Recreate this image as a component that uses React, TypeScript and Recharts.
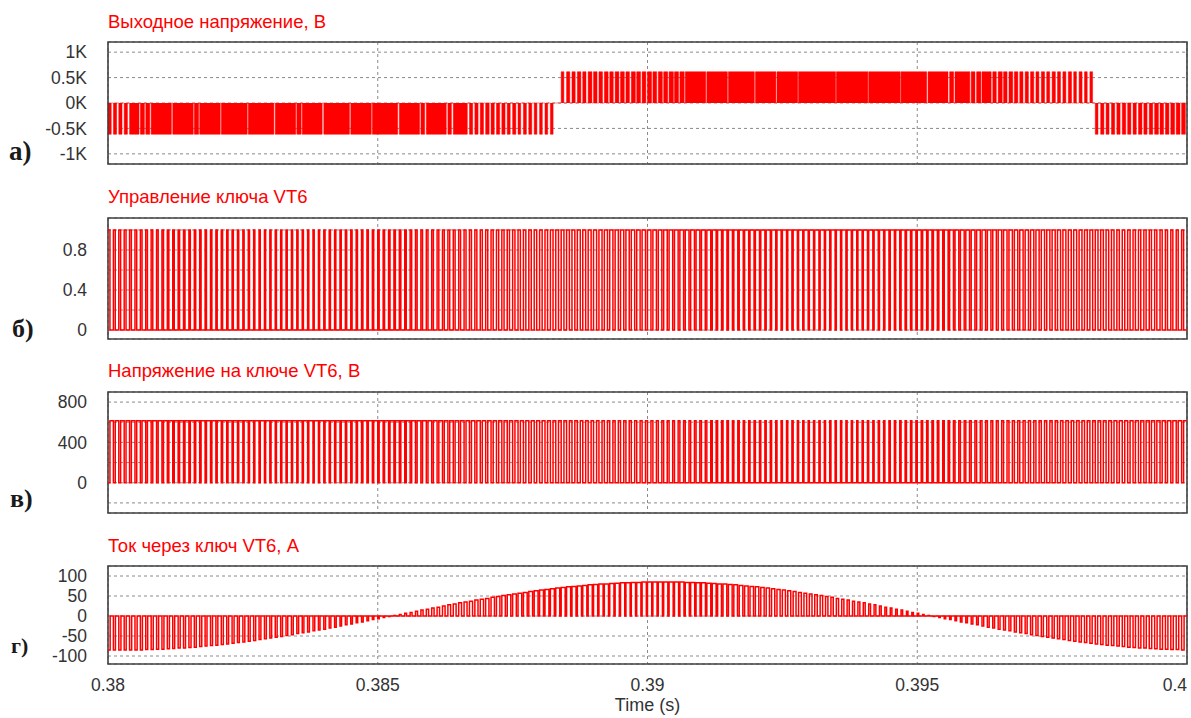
import React from 'react';
import { ComposedChart, Line, Area, XAxis, YAxis, CartesianGrid, ReferenceArea } from 'recharts';

// ---------- time base ----------
const TIME_START = 0.38;
const TIME_END = 0.4;
const PWM_PERIOD = 0.0001; // one switching period (10 kHz)
const timeTicks = [0.38, 0.385, 0.39, 0.395, 0.4];
const timeTickLabels = ['0.38', '0.385', '0.39', '0.395', '0.4'];

// ---------- panel titles ----------
const titles = ['Выходное напряжение, В', 'Управление ключа VT6', 'Напряжение на ключе VT6, В', 'Ток через ключ VT6, А'];
const panelLetters = ['а)', 'б)', 'в)', 'г)'];

// ---------- axes ----------
const outDomain = [-1200, 1200];
const outTicks = [-1000, -500, 0, 500, 1000];
const outTickLabels = ['-1K', '-0.5K', '0K', '0.5K', '1K'];

const ctrlDomain = [-0.09, 1.12];
const ctrlTicks = [0, 0.2, 0.4, 0.6, 0.8, 1.0];
const ctrlTickLabels = ['0', '', '0.4', '', '0.8', ''];

const vswDomain = [-300, 900];
const vswTicks = [-200, 0, 200, 400, 600, 800];
const vswTickLabels = ['', '0', '', '400', '', '800'];

const curDomain = [-120, 125];
const curTicks = [-100, -50, 0, 50, 100];
const curTickLabels = ['-100', '-50', '0', '50', '100'];

// ---------- levels ----------
const OUT_LEVEL = 615; // output voltage pulse level, V
const CTRL_LEVEL = 1; // control signal high
const VSW_LEVEL = 615; // switch blocking voltage, V

// ---------- per-period data (200 switching periods) ----------
// output voltage: signed fraction of the period spent at +/-OUT_LEVEL
const outDuty = [
  -0.6, -0.6, -0.6, -0.6, -1, -0.75, -0.75, -0.75, -1, -1,
  -1, -0.75, -1, -1, -1, -0.8, -0.8, -1, -1, -1,
  -0.8, -1, -1, -1, -1, -0.8, -1, -1, -1, -1,
  -0.75, -1, -1, -1, -0.8, -0.8, -1, -1, -1, -0.7,
  -1, -1, -1, -1, -0.75, -1, -1, -1, -0.8, -1,
  -1, -1, -1, -0.7, -1, -1, -1, -0.75, -0.7, -1,
  -1, -1, -0.7, -0.65, -1, -1, -0.6, -0.6, -0.6, -0.6,
  -0.65, -0.6, -0.6, -0.6, -0.55, -0.6, -0.5, -0.55, -0.55, -0.5,
  -0.5, -0.5, -0.5, 0, 0.5, 0.6, 0.6, 0.65, 0.6, 0.7,
  0.65, 0.65, 0.7, 0.65, 0.7, 0.7, 0.65, 0.75, 0.7, 0.7,
  0.75, 0.7, 0.75, 0.75, 0.8, 0.75, 0.8, 1, 1, 1,
  0.8, 1, 1, 1, 0.8, 1, 1, 1, 1, 0.8,
  1, 1, 1, 0.8, 1, 1, 1, 0.85, 1, 1,
  1, 1, 1, 1, 0.85, 1, 1, 1, 1, 1,
  0.85, 1, 1, 1, 1, 1, 0.85, 1, 1, 1,
  1, 0.75, 1, 1, 1, 0.7, 0.75, 1, 1, 0.75,
  0.7, 0.8, 1, 0.7, 0.65, 0.75, 0.65, 0.7, 0.65, 0.6,
  0.6, 0.6, 0.55, 0.6, 0.55, 0.6, 0.55, 0.55, 0.6, 0.5,
  0.55, 0.5, 0.5, -0.5, -0.6, -0.55, -0.6, -0.6, -0.65, -0.6,
  -0.6, -0.65, -0.6, -0.65, -0.7, -0.65, -0.65, -0.7, -0.7, -0.7,
];

// VT6 control: fraction of each period the switch is on
const vt6Duty = [
  0.36, 0.35, 0.34, 0.34, 0.33, 0.32, 0.31, 0.31, 0.30, 0.30,
  0.29, 0.28, 0.28, 0.27, 0.27, 0.26, 0.26, 0.25, 0.25, 0.25,
  0.24, 0.24, 0.24, 0.23, 0.23, 0.23, 0.23, 0.22, 0.22, 0.22,
  0.22, 0.22, 0.22, 0.22, 0.22, 0.22, 0.22, 0.22, 0.22, 0.22,
  0.23, 0.23, 0.23, 0.23, 0.24, 0.24, 0.24, 0.25, 0.25, 0.25,
  0.26, 0.26, 0.27, 0.27, 0.28, 0.28, 0.29, 0.30, 0.30, 0.31,
  0.31, 0.32, 0.33, 0.34, 0.34, 0.35, 0.36, 0.37, 0.37, 0.38,
  0.39, 0.40, 0.41, 0.41, 0.42, 0.43, 0.44, 0.45, 0.46, 0.46,
  0.47, 0.48, 0.49, 0.50, 0.51, 0.52, 0.53, 0.54, 0.54, 0.55,
  0.56, 0.57, 0.58, 0.59, 0.59, 0.60, 0.61, 0.62, 0.63, 0.63,
  0.64, 0.65, 0.66, 0.66, 0.67, 0.68, 0.69, 0.69, 0.70, 0.70,
  0.71, 0.72, 0.72, 0.73, 0.73, 0.74, 0.74, 0.75, 0.75, 0.75,
  0.76, 0.76, 0.76, 0.77, 0.77, 0.77, 0.77, 0.78, 0.78, 0.78,
  0.78, 0.78, 0.78, 0.78, 0.78, 0.78, 0.78, 0.78, 0.78, 0.78,
  0.77, 0.77, 0.77, 0.77, 0.76, 0.76, 0.76, 0.75, 0.75, 0.75,
  0.74, 0.74, 0.73, 0.73, 0.72, 0.72, 0.71, 0.70, 0.70, 0.69,
  0.69, 0.68, 0.67, 0.66, 0.66, 0.65, 0.64, 0.63, 0.63, 0.62,
  0.61, 0.60, 0.59, 0.59, 0.58, 0.57, 0.56, 0.55, 0.54, 0.54,
  0.53, 0.52, 0.51, 0.50, 0.49, 0.48, 0.47, 0.46, 0.46, 0.45,
  0.44, 0.43, 0.42, 0.41, 0.41, 0.40, 0.39, 0.38, 0.37, 0.37,
];

// VT6 current: envelope (A) during each conduction interval
const curEnvelope = [
  -85, -85, -85, -85, -85, -85, -85, -84, -84, -83,
  -83, -82, -81, -80, -80, -79, -78, -76, -75, -74,
  -73, -71, -70, -68, -66, -65, -63, -61, -59, -57,
  -55, -53, -51, -49, -47, -44, -42, -40, -37, -35,
  -33, -30, -28, -25, -22, -20, -17, -15, -12, -9,
  -7, -4, -1, 1, 4, 7, 9, 12, 15, 17,
  20, 22, 25, 28, 30, 33, 35, 37, 40, 42,
  44, 47, 49, 51, 53, 55, 57, 59, 61, 63,
  65, 66, 68, 70, 71, 73, 74, 75, 76, 78,
  79, 80, 80, 81, 82, 83, 83, 84, 84, 85,
  85, 85, 85, 85, 85, 85, 85, 84, 84, 83,
  83, 82, 81, 80, 80, 79, 78, 76, 75, 74,
  73, 71, 70, 68, 66, 65, 63, 61, 59, 57,
  55, 53, 51, 49, 47, 44, 42, 40, 37, 35,
  33, 30, 28, 25, 22, 20, 17, 15, 12, 9,
  7, 4, 1, -1, -4, -7, -9, -12, -15, -17,
  -20, -22, -25, -28, -30, -33, -35, -37, -40, -42,
  -44, -47, -49, -51, -53, -55, -57, -59, -61, -63,
  -65, -66, -68, -70, -71, -73, -74, -75, -76, -78,
  -79, -80, -80, -81, -82, -83, -83, -84, -84, -85,
];

// VT6 current: fraction of each period the current flows
const curOnFrac = [
  0.40, 0.38, 0.40, 0.37, 0.39, 0.40, 0.38, 0.36, 0.39, 0.38,
  0.37, 0.39, 0.36, 0.38, 0.37, 0.39, 0.36, 0.38, 0.35, 0.37,
  0.36, 0.38, 0.35, 0.37, 0.34, 0.36, 0.35, 0.37, 0.34, 0.35,
  0.33, 0.35, 0.34, 0.32, 0.34, 0.33, 0.31, 0.33, 0.32, 0.30,
  0.32, 0.31, 0.30, 0.29, 0.31, 0.30, 0.28, 0.30, 0.29, 0.28,
  0.27, 0.28, 0.26, 0.30, 0.32, 0.34, 0.36, 0.38, 0.40, 0.42,
  0.44, 0.46, 0.48, 0.50, 0.52, 0.53, 0.55, 0.57, 0.58, 0.60,
  0.61, 0.63, 0.64, 0.65, 0.66, 0.68, 0.69, 0.70, 0.70, 0.71,
  0.72, 0.73, 0.73, 0.74, 0.74, 0.75, 0.75, 0.76, 0.76, 0.76,
  0.77, 0.77, 0.77, 0.78, 0.78, 0.78, 0.78, 0.78, 0.78, 0.78,
  0.78, 0.77, 0.77, 0.77, 0.76, 0.76, 0.76, 0.75, 0.75, 0.74,
  0.74, 0.73, 0.72, 0.71, 0.70, 0.69, 0.68, 0.67, 0.66, 0.65,
  0.63, 0.62, 0.61, 0.59, 0.58, 0.56, 0.55, 0.53, 0.52, 0.50,
  0.49, 0.47, 0.46, 0.44, 0.43, 0.41, 0.40, 0.39, 0.37, 0.36,
  0.35, 0.34, 0.33, 0.32, 0.31, 0.30, 0.30, 0.29, 0.28, 0.28,
  0.27, 0.27, 0.26, 0.25, 0.26, 0.27, 0.28, 0.28, 0.29, 0.30,
  0.31, 0.31, 0.32, 0.33, 0.33, 0.34, 0.35, 0.35, 0.36, 0.36,
  0.37, 0.37, 0.38, 0.38, 0.39, 0.39, 0.40, 0.40, 0.41, 0.41,
  0.42, 0.42, 0.42, 0.43, 0.43, 0.43, 0.44, 0.44, 0.44, 0.45,
  0.45, 0.45, 0.45, 0.46, 0.46, 0.46, 0.46, 0.46, 0.46, 0.46,
];

// ---------- build step data ----------
type Pt = { t: number; v: number };
// each period: `first` level for frac of the period, then `second` level
function buildTrain(fracs: number[], first: (i: number) => number, second: (i: number) => number): Pt[] {
  const pts: Pt[] = [];
  let last = 0;
  for (let i = 0; i < fracs.length; i++) {
    const t0 = TIME_START + i * PWM_PERIOD;
    const f = fracs[i];
    if (f <= 0) {
      pts.push({ t: t0, v: second(i) });
      last = second(i);
    } else {
      pts.push({ t: t0, v: first(i) });
      last = first(i);
      if (f < 1) {
        pts.push({ t: t0 + f * PWM_PERIOD, v: second(i) });
        last = second(i);
      }
    }
  }
  pts.push({ t: TIME_END, v: last });
  return pts;
}

const outData = buildTrain(outDuty.map((d) => Math.abs(d)), (i) => Math.sign(outDuty[i]) * OUT_LEVEL, () => 0);
const ctrlData = buildTrain(vt6Duty, () => CTRL_LEVEL, () => 0);
const vswData = buildTrain(vt6Duty, () => 0, () => VSW_LEVEL);
const curData = buildTrain(curOnFrac, (i) => curEnvelope[i], () => 0);

// ---------- style ----------
const FONT = "'Liberation Sans', Arial, sans-serif";
const SERIF = "'Liberation Serif', 'Times New Roman', serif";
const RED = '#ff0000';
const TEXT = '#333333';
const W = 1191;

const TimeTick = (props: any) => {
  const { x, y, payload } = props;
  const idx = timeTicks.indexOf(payload.value);
  const isLast = idx === timeTicks.length - 1;
  return (
    <text x={x} y={y + 27} textAnchor={isLast ? 'end' : 'middle'} fill={TEXT} fontSize={17.5} fontFamily={FONT}>
      {timeTickLabels[idx]}
    </text>
  );
};

const EmptyTick = () => <g />;

type PanelProps = {
  top: number;
  plotHeight: number;
  data: Pt[];
  domain: number[];
  ticks: number[];
  tickLabels: string[];
  filled?: boolean;
  showTime?: boolean;
};

function Panel({ top, plotHeight, data, domain, ticks, tickLabels, filled, showTime }: PanelProps) {
  const xAxisH = showTime ? 40 : 1;
  const h = 4 + plotHeight + (showTime ? xAxisH : 4);
  return (
    <div style={{ position: 'absolute', left: 0, top: top - 4, width: W, height: h }}>
      <ComposedChart width={W} height={h} data={data} margin={{ top: 4, right: 4, bottom: showTime ? 0 : 3, left: 0 }}>
        <XAxis
          dataKey="t"
          type="number"
          domain={[TIME_START, TIME_END]}
          allowDataOverflow
          ticks={timeTicks}
          interval={0}
          height={xAxisH}
          axisLine={false}
          tickLine={false}
          tickSize={0}
          tickMargin={0}
          tick={showTime ? <TimeTick /> : <EmptyTick />}
        />
        <YAxis
          type="number"
          domain={domain as [number, number]}
          allowDataOverflow
          ticks={ticks}
          interval={0}
          width={108}
          axisLine={false}
          tickLine={false}
          tickSize={0}
          tickMargin={21}
          tick={{ fill: TEXT, fontSize: 17.5, fontFamily: FONT }}
          tickFormatter={(v: number) => tickLabels[ticks.indexOf(v)] ?? ''}
        />
        {filled ? (
          <Area
            type="stepAfter"
            dataKey="v"
            baseValue={0}
            stroke={RED}
            strokeWidth={0.5}
            fill={RED}
            fillOpacity={1}
            isAnimationActive={false}
            dot={false}
            activeDot={false}
          />
        ) : (
          <Line
            type="stepAfter"
            dataKey="v"
            stroke={RED}
            strokeWidth={1.5}
            dot={false}
            activeDot={false}
            isAnimationActive={false}
          />
        )}
        <CartesianGrid stroke="#8a8a8a" strokeDasharray="3 3" strokeWidth={1} />
        <ReferenceArea
          x1={TIME_START}
          x2={TIME_END}
          y1={domain[0]}
          y2={domain[1]}
          fill="none"
          fillOpacity={0}
          stroke="#404040"
          strokeWidth={1.6}
          ifOverflow="visible"
        />
      </ComposedChart>
    </div>
  );
}

const titleBaselines = [28, 203, 377, 551.5];
const letterPos = [
  { x: 9, y: 160, size: 27 },
  { x: 12, y: 337, size: 26 },
  { x: 10, y: 507, size: 26 },
  { x: 11, y: 653, size: 22 },
];

export default function App() {
  return (
    <div style={{ position: 'absolute', left: 0, top: 0, width: W, height: 718, background: '#ffffff', overflow: 'hidden' }}>
      <Panel top={42} plotHeight={122} data={outData} domain={outDomain} ticks={outTicks} tickLabels={outTickLabels} filled />
      <Panel top={218} plotHeight={121} data={ctrlData} domain={ctrlDomain} ticks={ctrlTicks} tickLabels={ctrlTickLabels} />
      <Panel top={392} plotHeight={121} data={vswData} domain={vswDomain} ticks={vswTicks} tickLabels={vswTickLabels} />
      <Panel top={566} plotHeight={98} data={curData} domain={curDomain} ticks={curTicks} tickLabels={curTickLabels} showTime />
      <svg width={W} height={718} style={{ position: 'absolute', left: 0, top: 0, pointerEvents: 'none' }}>
        {titles.map((t, i) => (
          <text key={t} x={108} y={titleBaselines[i]} fill={RED} fontSize={18.5} fontFamily={FONT}>
            {t}
          </text>
        ))}
        {panelLetters.map((l, i) => (
          <text key={l} x={letterPos[i].x} y={letterPos[i].y} fill="#1a1a1a" fontSize={letterPos[i].size} fontFamily={SERIF} fontWeight="bold">
            {l}
          </text>
        ))}
        <text x={647.5} y={711} textAnchor="middle" fill={TEXT} fontSize={18} fontFamily={FONT}>
          Time (s)
        </text>
      </svg>
    </div>
  );
}
